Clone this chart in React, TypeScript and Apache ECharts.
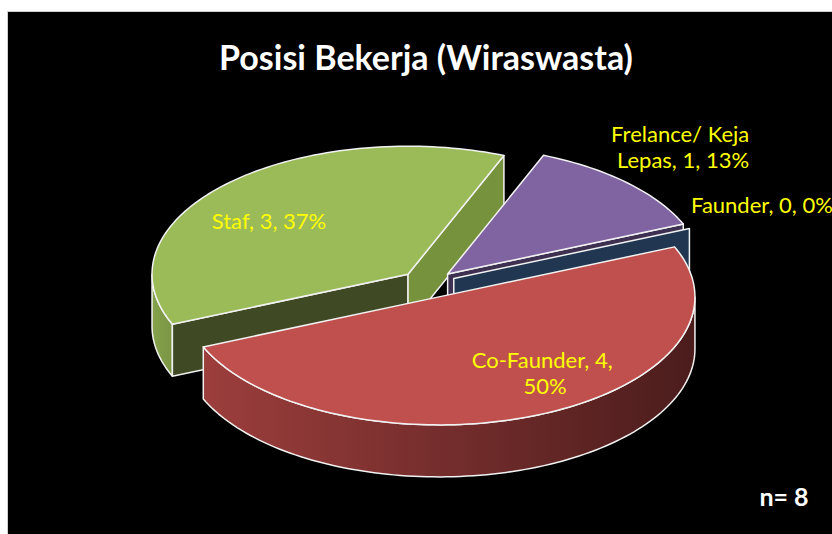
import React, { useEffect, useRef } from "react";
import * as echarts from "echarts";

// ---- data ----
const categories = ["Faunder", "Co-Faunder", "Staf", "Frelance/ Keja Lepas"];
const values = [0, 4, 3, 1];
const percentLabels = ["0%", "50%", "37%", "13%"];
const chartTitle = "Posisi Bekerja (Wiraswasta)";
const sampleNote = "n= 8";

// ---- styles ----
const topColors = ["#4F81BD", "#C0504D", "#9BBB59", "#8064A2"];
const startFaceColors = ["#203651", "#7A2F2D", "#3F4A24", "#3E3050"];
const endFaceColors = ["#203651", "#7A2F2D", "#76923C", "#3E3050"];
const wallColors = [
  ["#3D6A9E", "#203651"],
  ["#9C3E3C", "#4B1C1C"],
  ["#86A24B", "#7A9545"],
  ["#6A528A", "#3E3050"],
];
const labelLayout = [
  { x: 691, y: 204, align: "left", width: 0 },
  { x: 545, y: 372, align: "center", width: 165 },
  { x: 269, y: 220, align: "center", width: 0 },
  { x: 683, y: 146, align: "center", width: 150 },
];

// ---- geometry (layout) ----
const CX = 428;
const CY = 284;
const RX = 256;
const RY = 128;
const DEPTH = 52;
const EXPLODE = 28;
const START_DEG = 67;
const FONT = "Lato, 'Open Sans', sans-serif";

const total = values.reduce((a, b) => a + b, 0);

function arcPoints(cx: number, cy: number, a: number, b: number, dz: number) {
  const pts: number[][] = [];
  const n = Math.max(2, Math.ceil(Math.abs(b - a) / (Math.PI / 120)));
  for (let k = 0; k <= n; k++) {
    const t = a + ((b - a) * k) / n;
    pts.push([cx + RX * Math.sin(t), cy - RY * Math.cos(t) + dz]);
  }
  return pts;
}

function renderItem(params: any, api: any) {
  const i = params.dataIndex;
  const v = api.value(0);
  let before = 0;
  for (let k = 0; k < i; k++) before += values[k];
  const start = (START_DEG * Math.PI) / 180;
  const a1 = start + (before / total) * Math.PI * 2;
  const a2 = a1 + (v / total) * Math.PI * 2;
  const mid = (a1 + a2) / 2;
  const cx = CX + EXPLODE * Math.sin(mid);
  const cy = CY - EXPLODE * (RY / RX) * Math.cos(mid);
  const depth = -Math.cos(mid);
  const base = 200 + Math.round(depth * 10) * 10;
  const stroke = { stroke: "#F2F2F2", lineWidth: 1.5, lineJoin: "round" };
  const children: any[] = [];

  // outer wall (front half only)
  const ranges = [
    [Math.PI / 2, (3 * Math.PI) / 2],
    [(5 * Math.PI) / 2, (7 * Math.PI) / 2],
  ];
  ranges.forEach(([lo, hi]) => {
    const a = Math.max(a1, lo);
    const b = Math.min(a2, hi);
    if (b - a > 1e-6) {
      const topArc = arcPoints(cx, cy, a, b, 0);
      const botArc = arcPoints(cx, cy, a, b, DEPTH).reverse();
      children.push({
        type: "polygon",
        z2: base,
        shape: { points: topArc.concat(botArc) },
        style: {
          fill: new echarts.graphic.LinearGradient(0, 0, 1, 0, [
            { offset: 0, color: wallColors[i][0] },
            { offset: 1, color: wallColors[i][1] },
          ]),
          ...stroke,
        },
      });
    }
  });

  const face = (ang: number, color: string) => {
    const ex = cx + RX * Math.sin(ang);
    const ey = cy - RY * Math.cos(ang);
    children.push({
      type: "polygon",
      z2: base + 1,
      shape: {
        points: [
          [cx, cy],
          [ex, ey],
          [ex, ey + DEPTH],
          [cx, cy + DEPTH],
        ],
      },
      style: { fill: color, ...stroke },
    });
  };
  if (Math.sin(a1) < 0) face(a1, startFaceColors[i]);
  if (Math.sin(a2) > 0) face(a2, endFaceColors[i]);

  if (v > 0) {
    children.push({
      type: "polygon",
      z2: base + 5,
      shape: { points: [[cx, cy]].concat(arcPoints(cx, cy, a1, a2, 0)) },
      style: { fill: topColors[i], ...stroke },
    });
  }
  return { type: "group", children };
}

export default function App() {
  const ref = useRef<HTMLDivElement>(null);
  useEffect(() => {
    if (!ref.current) return;
    const chart = echarts.init(ref.current, null, { renderer: "svg" });
    const labels = categories.map((name, i) => {
      const L = labelLayout[i];
      const style: any = {
        text: `${name}, ${values[i]}, ${percentLabels[i]}`,
        fill: "#FFFF00",
        font: `22px ${FONT}`,
        align: L.align,
        verticalAlign: "middle",
        lineHeight: 26,
      };
      if (L.width) {
        style.width = L.width;
        style.overflow = "break";
      }
      return { type: "text", x: L.x, y: L.y, z: 100, style };
    });
    chart.setOption({
      animation: false,
      backgroundColor: "#FFFFFF",
      graphic: [
        {
          type: "rect",
          z: -10,
          shape: { x: 7.5, y: 11.5, width: 830, height: 530 },
          style: { fill: "#000000", stroke: "#D0D0D0", lineWidth: 1 },
        },
        {
          type: "text",
          x: 426,
          y: 56,
          z: 100,
          style: {
            text: chartTitle,
            fill: "#FFFFFF",
            font: `bold 34px ${FONT}`,
            align: "center",
            verticalAlign: "middle",
          },
        },
        {
          type: "text",
          x: 784,
          y: 496,
          z: 100,
          style: {
            text: sampleNote,
            fill: "#FFFFFF",
            font: `bold 25px ${FONT}`,
            align: "center",
            verticalAlign: "middle",
          },
        },
        ...labels,
      ],
      series: [
        {
          type: "custom",
          coordinateSystem: "none",
          silent: true,
          renderItem,
          data: values.map((v, i) => ({ name: categories[i], value: [v] })),
        },
      ],
    });
    return () => chart.dispose();
  }, []);
  return (
    <div
      ref={ref}
      style={{ position: "absolute", left: 0, top: 0, width: 832, height: 534 }}
    />
  );
}
